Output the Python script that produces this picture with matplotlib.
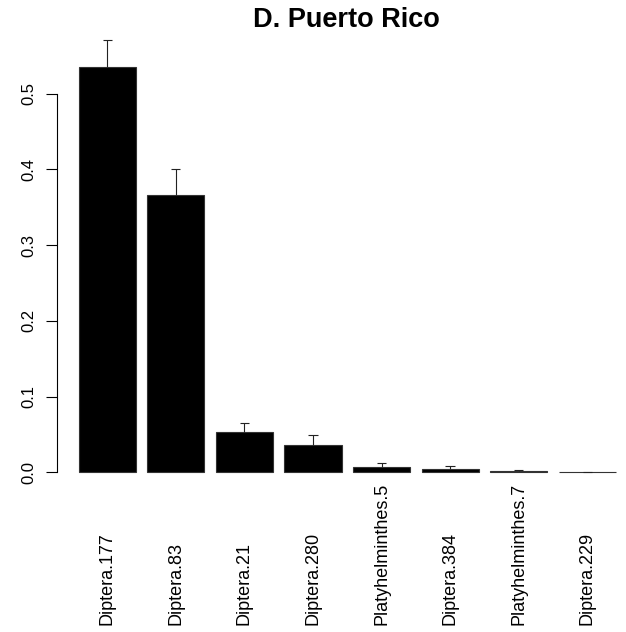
import matplotlib
matplotlib.use('Agg')
import matplotlib.pyplot as plt
import matplotlib.transforms as mtransforms

plt.rcParams['font.family'] = ['Liberation Sans', 'DejaVu Sans']

# data
taxa = ['Diptera.177', 'Diptera.83', 'Diptera.21', 'Diptera.280',
        'Platyhelminthes.5', 'Diptera.384', 'Platyhelminthes.7', 'Diptera.229']
means = [0.535, 0.366, 0.0528, 0.036, 0.007, 0.004, 0.002, 0.0005]
se = [0.036, 0.0346, 0.0127, 0.0137, 0.0057, 0.0047, 0.0014, 0.0001]
yticks = [0.0, 0.1, 0.2, 0.3, 0.4, 0.5]

W, H = 626, 632
fig = plt.figure(figsize=(W / 100, H / 100), dpi=100)

# plot region in pixels (R-style barplot)
left_px, right_px, bottom_px, top_px = 56.7, 626, 472.3, 30
ax = fig.add_axes([left_px / W, (H - bottom_px) / H,
                   (right_px - left_px) / W, (bottom_px - top_px) / H])

# R barplot positions: width 1, space 0.2
xpos = [0.7 + 1.2 * i for i in range(len(means))]
bars = ax.bar(xpos, means, width=1.0, color='black', edgecolor='#333333', linewidth=0.8)
for b in bars:
    b.set_clip_on(False)

# upper error bars only
tops = [m + s for m, s in zip(means, se)]
ax.vlines(xpos, means, tops, color='#222222', linewidth=0.8, clip_on=False)
ax.hlines(tops, [x - 0.082 for x in xpos], [x + 0.082 for x in xpos],
          color='#222222', linewidth=0.8, clip_on=False)

px_per_unit = 57.15
x0_px = 107.2 - 0.7 * px_per_unit
ax.set_xlim((left_px - x0_px) / px_per_unit, (right_px - x0_px) / px_per_unit)
ax.set_ylim(0, (bottom_px - top_px) / 757.2)

for side in ['top', 'right', 'bottom']:
    ax.spines[side].set_visible(False)
ax.spines['left'].set_bounds(0, 0.5)
ax.spines['left'].set_linewidth(0.8)
ax.set_xticks([])
ax.set_yticks(yticks)
ax.set_yticklabels([f'{v:.1f}' for v in yticks], rotation=90, va='center')
ax.tick_params(axis='y', length=7.9, width=0.8, pad=7, labelsize=12)

# rotated category labels, bottom-anchored like the original
trans = mtransforms.blended_transform_factory(ax.transData, fig.transFigure)
for x, name in zip(xpos, taxa):
    ax.text(x, (H - 625) / H, name, rotation=90, ha='center', va='bottom',
            fontsize=13, transform=trans)

fig.text(346.4 / W, 1 - 19.7 / H, 'D. Puerto Rico', ha='center', va='center',
         fontsize=19.5, fontweight='bold')

plt.savefig('out.png', dpi=100)
plt.close()
